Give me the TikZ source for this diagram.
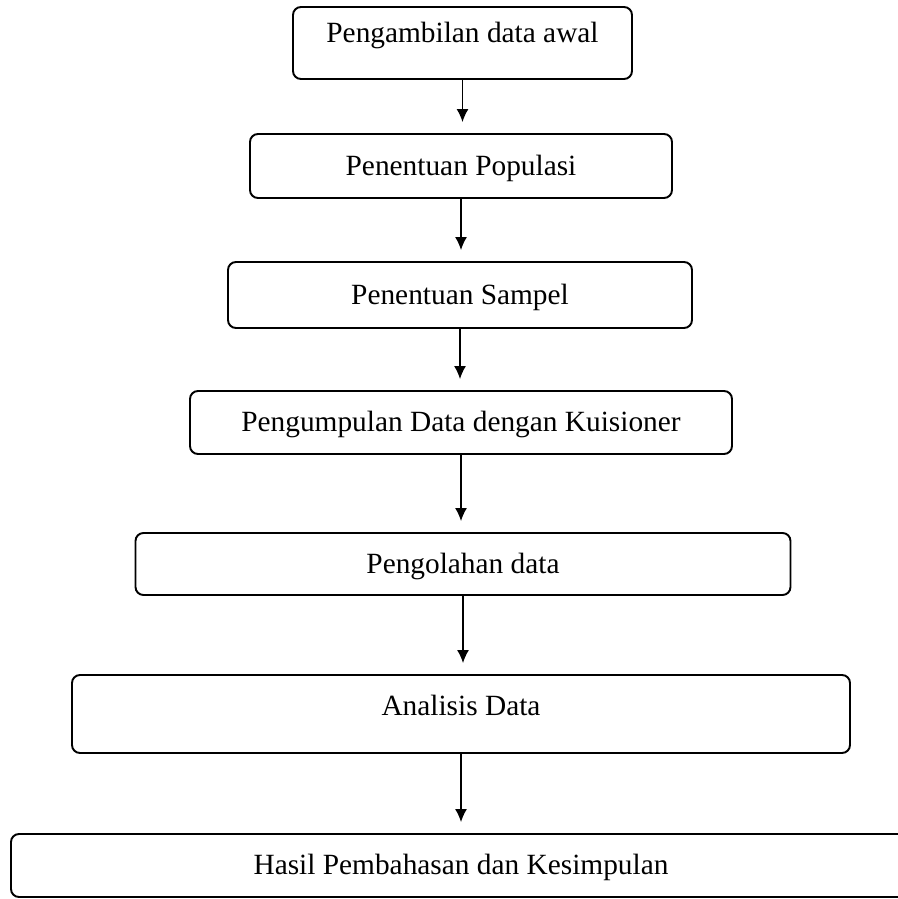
\documentclass[tikz,border=0pt]{standalone}
\usepackage{fontspec}
\setmainfont{Liberation Serif}
\usepackage{tikz}
\usetikzlibrary{arrows,arrows.meta,shapes}
\tikzset{
    block/.style = {draw, rectangle, rounded corners=0.16cm,
        line width=1.1pt,
        font=\fontsize{16.7}{20}\selectfont,
        text height=14pt, text depth=3.5pt},
    arrow/.style={draw, line width=0.8pt,
        -{Latex[length=0.26cm,width=0.24cm]}, shorten >=0.22cm}
}

\begin{document}
\begin{tikzpicture}
    \useasboundingbox (0,0) rectangle (17.94,-17.98);
    % boxes
    \node [block, minimum width=6.78cm, minimum height=1.44cm, text depth=3.5pt+0.4cm] (awal) at (9.25,-0.86) {Pengambilan data awal};
    \node [block, minimum width=8.44cm, minimum height=1.28cm] (populasi) at (9.22,-3.32) {Penentuan Populasi};
    \node [block, minimum width=9.28cm, minimum height=1.32cm] (sampel) at (9.20,-5.90) {Penentuan Sampel};
    \node [block, minimum width=10.84cm, minimum height=1.26cm] (kuisioner) at (9.22,-8.45) {Pengumpulan Data dengan Kuisioner};
    \node [block, minimum width=13.1cm, minimum height=1.24cm] (olah) at (9.26,-11.28) {Pengolahan data};
    \node [block, minimum width=15.56cm, minimum height=1.56cm, text depth=3.5pt+0.32cm] (analisis) at (9.22,-14.28) {Analisis Data};
    \node [block, minimum width=18cm, minimum height=1.26cm] (hasil) at (9.22,-17.31) {Hasil Pembahasan dan Kesimpulan};
    % arrows
    \foreach \a/\b in {awal/populasi,populasi/sampel,sampel/kuisioner,kuisioner/olah,olah/analisis,analisis/hasil} {
        \path [arrow] (\a.south) -- (\a.south |- \b.north);
    }
\end{tikzpicture}
\end{document}
